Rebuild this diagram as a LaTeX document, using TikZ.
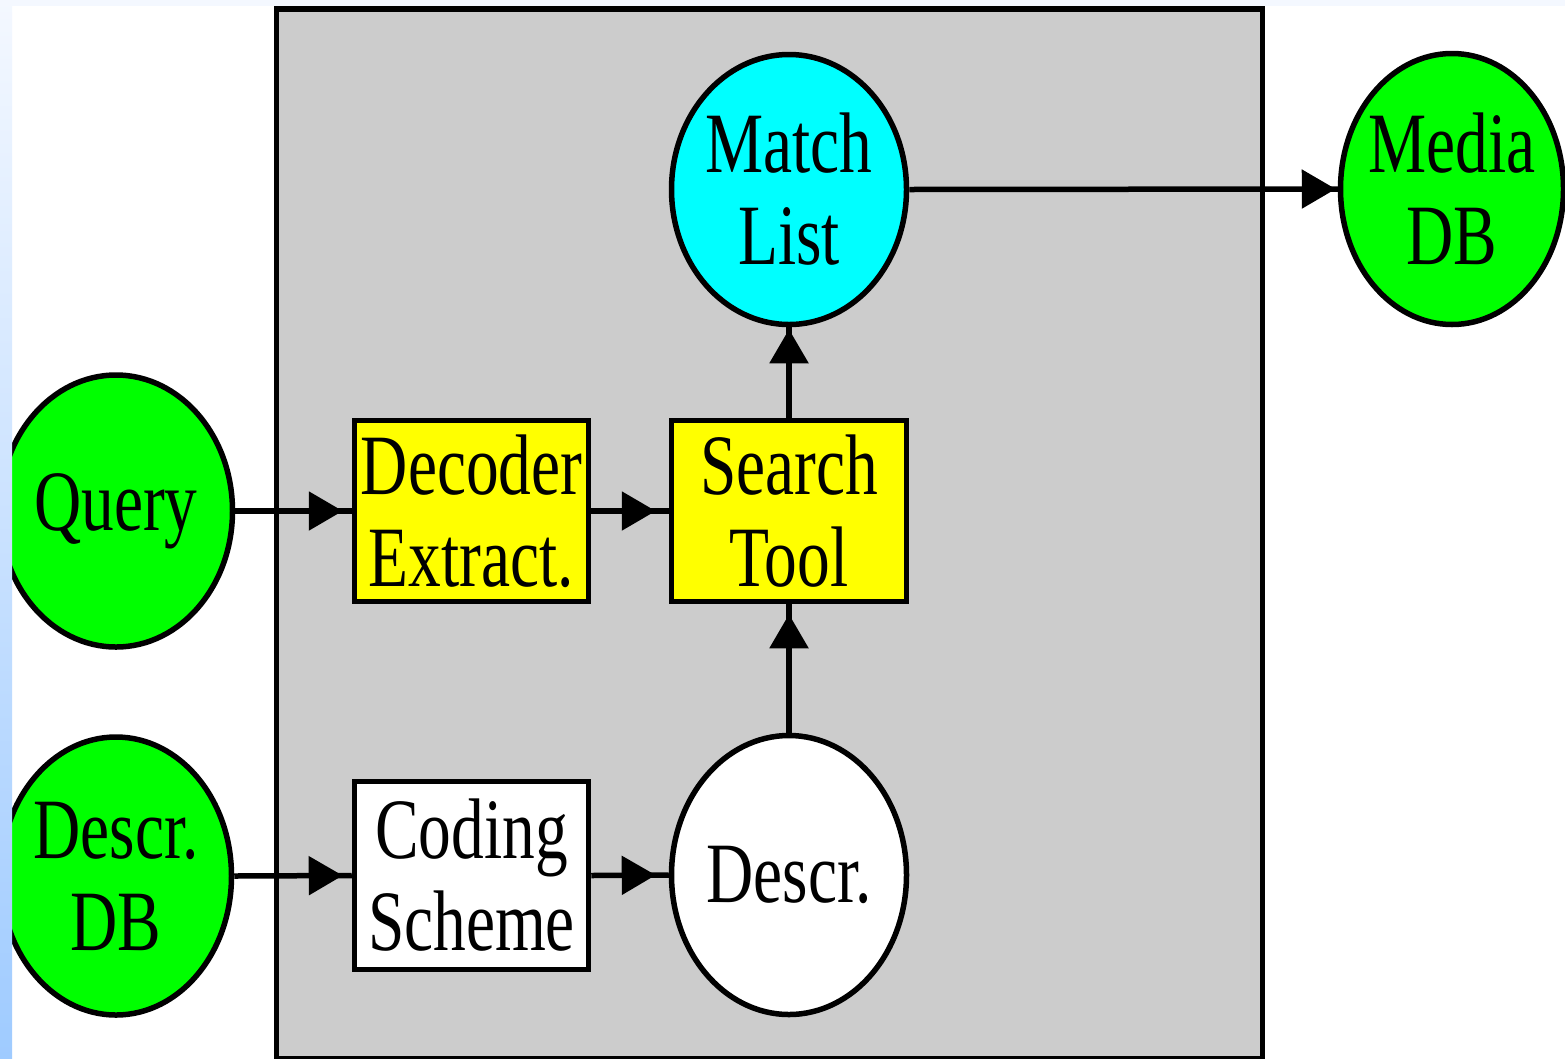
\documentclass[tikz,border=0pt]{standalone}
\usepackage{fontspec}
\setmainfont[FakeStretch=0.76]{Liberation Serif}
\usetikzlibrary{arrows.meta,decorations.markings,shapes.geometric}
\definecolor{gbox}{HTML}{CCCCCC}
\definecolor{dbgreen}{HTML}{00FF00}
\definecolor{mcyan}{HTML}{00FFFF}
\definecolor{pyellow}{HTML}{FFFF00}
\definecolor{stripTop}{HTML}{F4F8FF}
\definecolor{stripBot}{HTML}{9FCBFF}
\begin{document}
\begin{tikzpicture}[x=1pt,y=-1pt,
  lbl/.style={font=\fontsize{86}{92}\selectfont, align=center, inner sep=0pt},
  ell/.style={ellipse, draw=black, line width=5.5pt, inner sep=0pt},
  box/.style={rectangle, draw=black, line width=5.5pt, inner sep=0pt, font=\fontsize{86}{92}\selectfont, align=center},
  conn/.style={line width=5.5pt, postaction=decorate, decoration={markings, mark=at position -#1 with {\arrow{Triangle[length=34pt,width=38pt]}}}},
  conn/.default=8pt]
\useasboundingbox (0,0) rectangle (1565,1058);
\fill[white] (0,0) rectangle (1565,1058);
% enclosing gray panel
\filldraw[fill=gbox, draw=black, line width=5.5pt] (276.5,9) rectangle (1262.5,1058.5);
% nodes
\node[ell, fill=dbgreen, minimum width=233pt, minimum height=272pt, label={[lbl]center:Query}] (query) at (116,511) {};
\node[ell, fill=dbgreen, minimum width=231pt, minimum height=278pt, label={[lbl]center:Descr.\\DB}] (ddb) at (116,876) {};
\node[ell, fill=dbgreen, minimum width=223pt, minimum height=271pt, label={[lbl]center:Media\\DB}] (media) at (1452,189) {};
\node[ell, fill=mcyan, minimum width=235pt, minimum height=270pt, label={[lbl]center:Match\\List}] (match) at (789,189.5) {};
\node[ell, fill=white, minimum width=235pt, minimum height=279pt, label={[lbl]center:Descr.}] (descr) at (789,875) {};
\node[box, fill=pyellow, minimum width=234pt, minimum height=181pt] (dec) at (471.5,511) {Decoder\\Extract.};
\node[box, fill=pyellow, minimum width=235pt, minimum height=181pt] (search) at (789,511) {Search\\Tool};
\node[box, fill=white, minimum width=234pt, minimum height=188pt] (coding) at (471.5,875.5) {Coding\\Scheme};
% connectors
\draw[conn=9pt] (query.east) -- (dec.west);
\draw[conn=13pt] (dec.east) -- (search.west);
\draw[conn=9pt] (ddb.east) -- (coding.west);
\draw[conn=13pt] (coding.east) -- (descr.west);
\draw[conn=10pt] (descr.north) -- (search.south);
\draw[conn=2pt] (search.north) -- (match.south);
\draw[conn=2pt] (match.east) -- (media.west);
% page edge strips
\fill[stripTop] (0,0) rectangle (1565,6);
\shade[top color=stripTop, bottom color=stripBot] (0,0) rectangle (12,1058);
\end{tikzpicture}
\end{document}
